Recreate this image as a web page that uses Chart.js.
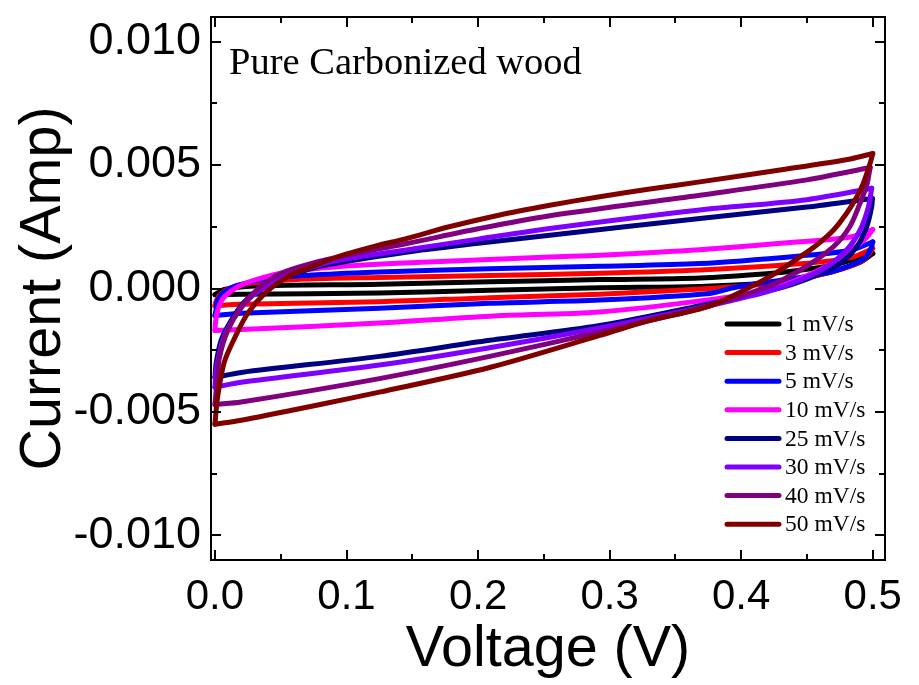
<!DOCTYPE html>
<html>
<head>
<meta charset="utf-8">
<script src="https://cdn.jsdelivr.net/npm/chart.js@4.4.0/dist/chart.umd.min.js"></script>
<style>
  html, body { margin: 0; padding: 0; background: #fff; }
</style>
</head>
<body>
<canvas id="cv" width="919" height="685"></canvas>
<script>
// scan rates and their trace colours
const scanRates = ["1 mV/s", "3 mV/s", "5 mV/s", "10 mV/s", "25 mV/s", "30 mV/s", "40 mV/s", "50 mV/s"];
const lineColors = ["#000000", "#ff0000", "#0000ff", "#ff00ff", "#000080", "#8000ff", "#800080", "#800000"];

// axis ticks
const xTicks = [0, 0.1, 0.2, 0.3, 0.4, 0.5];
const yTicks = [-0.010, -0.005, 0, 0.005, 0.010];

// CV loops as [voltage (V), current (A)], forward sweep then reverse sweep
const cv1 = [[0, -0.00025], [0.007, -0.00004], [0.03, 0.0001], [0.125, 0.00017], [0.2088, 0.00027], [0.2925, 0.00036],
  [0.3686, 0.00043], [0.4193, 0.0006], [0.4447, 0.00074], [0.47, 0.00095], [0.5, 0.00142],
  [0.49, 0.00105], [0.47, 0.0007], [0.4447, 0.0004], [0.4193, 0.00022], [0.3686, 0.00008], [0.2925, 0.00003],
  [0.2088, -0.00007], [0.125, -0.00018], [0.02, -0.00023], [0, -0.00025]];
const cv3 = [[0, -0.0007], [0.001, -0.0005], [0.0034, -0.00027], [0.0097, -0.00002], [0.0224, 0.00018], [0.068, 0.00038],
  [0.125, 0.00045], [0.2088, 0.00053], [0.2925, 0.00062], [0.3686, 0.00075], [0.4447, 0.001], [0.483, 0.00125], [0.5, 0.00162],
  [0.4928, 0.00115], [0.47, 0.00068], [0.4447, 0.0004], [0.4193, 0.00018], [0.3762, 0], [0.2925, -0.00023],
  [0.2088, -0.00037], [0.125, -0.00054], [0.02, -0.00064], [0, -0.0007]];
const cv5 = [[0, -0.0011], [0.001, -0.0008], [0.002, -0.00047], [0.007, -0.00014], [0.017, 0.00013], [0.043, 0.00041],
  [0.093, 0.0006], [0.125, 0.00067], [0.2088, 0.0008], [0.2925, 0.0009], [0.3686, 0.00101], [0.4447, 0.00132], [0.483, 0.00155], [0.5, 0.00189],
  [0.4985, 0.0016], [0.4928, 0.00118], [0.47, 0.0007], [0.4447, 0.00045], [0.4193, 0.00025], [0.394, 0.00003],
  [0.3762, -0.0002], [0.2925, -0.00047], [0.2088, -0.0006], [0.125, -0.0008], [0.02, -0.001], [0, -0.0011]];
const cv10 = [[0, -0.0017], [0.0005, -0.00135], [0.002, -0.0009], [0.004, -0.0006], [0.007, -0.00034], [0.017, 0.00006], [0.03, 0.00034],
  [0.055, 0.00067], [0.093, 0.00088], [0.144, 0.00103], [0.2545, 0.00128], [0.2925, 0.00135], [0.3686, 0.00157],
  [0.4447, 0.00189], [0.483, 0.00209], [0.5, 0.00239],
  [0.495, 0.00205], [0.485, 0.0016], [0.47, 0.00105], [0.4447, 0.0004], [0.4193, -0.00007], [0.3762, -0.00045],
  [0.2925, -0.00095], [0.2088, -0.00112], [0.125, -0.0014], [0.02, -0.00166], [0, -0.0017]];
const cv25 = [[0, -0.0036], [0.001, -0.003], [0.0047, -0.0021], [0.0123, -0.0013], [0.0224, -0.00054], [0.0377, 0.00006],
  [0.058, 0.00054], [0.0833, 0.00094], [0.144, 0.00146], [0.2, 0.00183], [0.2545, 0.00216], [0.3686, 0.00284], [0.45, 0.0033], [0.4997, 0.00365],
  [0.4992, 0.00331], [0.4954, 0.0025], [0.4878, 0.00169], [0.475, 0.00101], [0.4574, 0.00054], [0.432, 0.00006],
  [0.394, -0.0004], [0.3686, -0.0007], [0.2925, -0.0015], [0.2088, -0.0021], [0.125, -0.00275], [0.02, -0.0034], [0, -0.0036]];
const cv30 = [[0, -0.004], [0.001, -0.0033], [0.006, -0.0021], [0.015, -0.00115], [0.0275, -0.00034], [0.043, 0.0002],
  [0.063, 0.00067], [0.088, 0.00108], [0.144, 0.00155], [0.2, 0.002], [0.2545, 0.00243], [0.3686, 0.00318], [0.45, 0.0036], [0.4992, 0.00406],
  [0.4967, 0.00331], [0.4903, 0.00236], [0.48, 0.00155], [0.465, 0.00088], [0.4447, 0.00034], [0.4193, -0.00014],
  [0.394, -0.00047], [0.3686, -0.00078], [0.2925, -0.0016], [0.2088, -0.0024], [0.125, -0.0031], [0.02, -0.0038], [0, -0.004]];
const cv40 = [[0, -0.0047], [0.0015, -0.0038], [0.0034, -0.0028], [0.0097, -0.0017], [0.02, -0.00075], [0.033, 0],
  [0.05, 0.00061], [0.073, 0.00101], [0.0985, 0.00133], [0.144, 0.0018], [0.2, 0.00242], [0.2545, 0.00295], [0.3686, 0.00378],
  [0.45, 0.0044], [0.498, 0.0049],
  [0.4955, 0.0042], [0.4903, 0.00345], [0.4825, 0.0025], [0.47, 0.00169], [0.4447, 0.00074], [0.4193, 0.00006],
  [0.3762, -0.0007], [0.2925, -0.00176], [0.2088, -0.00275], [0.125, -0.00365], [0.02, -0.0046], [0, -0.0047]];
const cv50 = [[0, -0.0055], [0.002, -0.0044], [0.007, -0.003], [0.015, -0.002], [0.025, -0.001], [0.038, -0.0002],
  [0.055, 0.00047], [0.076, 0.00094], [0.099, 0.00138], [0.124, 0.00175], [0.144, 0.002], [0.178, 0.0025],
  [0.2165, 0.00298], [0.2545, 0.00337], [0.2925, 0.00372], [0.3306, 0.00403], [0.3686, 0.00432], [0.432, 0.00482],
  [0.483, 0.00525], [0.5, 0.00547],
  [0.498, 0.00507], [0.4928, 0.00426], [0.4878, 0.00371], [0.48, 0.00304], [0.47, 0.00236], [0.4574, 0.00176],
  [0.4447, 0.00128], [0.4193, 0.00041], [0.3762, -0.0007], [0.33, -0.0013], [0.2925, -0.0019],
  [0.2088, -0.0032], [0.125, -0.0042], [0.08, -0.0047], [0.02, -0.00534], [0, -0.0055]];

const loops = [cv1, cv3, cv5, cv10, cv25, cv30, cv40, cv50];

// each loop is split at its vertex potential so both sweeps end in a sharp turn
const datasets = [];
loops.forEach((pts, k) => {
  let turn = 0;
  pts.forEach((p, i) => { if (p[0] > pts[turn][0]) turn = i; });
  [pts.slice(0, turn + 1), pts.slice(turn)].forEach(part => {
    datasets.push({
      label: scanRates[k],
      data: part.map(p => ({ x: p[0], y: p[1] })),
      showLine: true,
      borderColor: lineColors[k],
      borderWidth: 5,
      borderCapStyle: "round",
      borderJoinStyle: "round",
      tension: 0.3,
      pointRadius: 0,
      fill: false,
      order: loops.length - k
    });
  });
});

// box frame with inward major/minor ticks on all four sides
const frameTicks = {
  id: "frameTicks",
  afterDatasetsDraw(chart) {
    const { ctx, chartArea: a, scales } = chart;
    const sx = scales.x, sy = scales.y;
    ctx.save();
    ctx.strokeStyle = "#000";
    ctx.lineWidth = 2;
    ctx.strokeRect(a.left, a.top, a.right - a.left, a.bottom - a.top);
    ctx.beginPath();
    const xt = (v, len) => {
      const px = Math.round(sx.getPixelForValue(v));
      ctx.moveTo(px, a.bottom); ctx.lineTo(px, a.bottom - len);
      ctx.moveTo(px, a.top); ctx.lineTo(px, a.top + len);
    };
    const yt = (v, len) => {
      const py = Math.round(sy.getPixelForValue(v));
      ctx.moveTo(a.left, py); ctx.lineTo(a.left + len, py);
      ctx.moveTo(a.right, py); ctx.lineTo(a.right - len, py);
    };
    xTicks.forEach((v, i) => {
      xt(v, 10);
      if (i > 0) xt((v + xTicks[i - 1]) / 2, 6);
    });
    yTicks.forEach((v, i) => {
      yt(v, 10);
      if (i > 0) yt((v + yTicks[i - 1]) / 2, 6);
    });
    ctx.stroke();
    ctx.restore();
  }
};

// sample label and scan-rate legend
const annotations = {
  id: "annotations",
  afterDraw(chart) {
    const { ctx, chartArea: a } = chart;
    ctx.save();
    ctx.fillStyle = "#000";
    ctx.font = "38.5px 'Liberation Serif', 'Times New Roman', serif";
    ctx.textBaseline = "alphabetic";
    ctx.textAlign = "left";
    ctx.fillText("Pure Carbonized wood", a.left + 18, 74);

    ctx.font = "23.5px 'Liberation Serif', 'Times New Roman', serif";
    ctx.textBaseline = "middle";
    ctx.lineCap = "round";
    ctx.lineWidth = 5;
    scanRates.forEach((name, i) => {
      const y = 324 + i * 28.6;
      ctx.strokeStyle = lineColors[i];
      ctx.beginPath();
      ctx.moveTo(727, y);
      ctx.lineTo(779, y);
      ctx.stroke();
      ctx.fillText(name, 785, y + 1);
    });
    ctx.restore();
  }
};

const xTickFont = { family: "'Liberation Sans', Arial, sans-serif", size: 42 };
const yTickFont = { family: "'Liberation Sans', Arial, sans-serif", size: 45 };
const titleFont = { family: "'Liberation Sans', Arial, sans-serif", size: 57.5, lineHeight: 1.2 };

new Chart(document.getElementById("cv"), {
  type: "scatter",
  data: { datasets },
  options: {
    responsive: false,
    animation: false,
    devicePixelRatio: 1,
    layout: { padding: { top: 17, right: 34, left: 0, bottom: 0 } },
    plugins: { legend: { display: false }, tooltip: { enabled: false } },
    scales: {
      x: {
        type: "linear",
        min: -0.003,
        max: 0.5093,
        afterBuildTicks: s => { s.ticks = xTicks.map(v => ({ value: v })); },
        afterFit: s => { s.height = 125; s.paddingLeft = 0; s.paddingRight = 0; },
        grid: { display: false, drawTicks: false },
        border: { display: false },
        ticks: { color: "#000", font: xTickFont, padding: 12, maxRotation: 0, callback: v => v.toFixed(1) },
        title: { display: true, text: "Voltage (V)", color: "#000", font: titleFont, padding: { top: 0, bottom: 0 } }
      },
      y: {
        type: "linear",
        min: -0.011,
        max: 0.011,
        afterBuildTicks: s => { s.ticks = yTicks.map(v => ({ value: v })); },
        afterFit: s => { s.width = 211; s.paddingTop = 0; s.paddingBottom = 0; },
        grid: { display: false, drawTicks: false },
        border: { display: false },
        ticks: { color: "#000", font: yTickFont, padding: 10, callback: v => v.toFixed(3) },
        title: { display: true, text: "Current (Amp)", color: "#000", font: titleFont, padding: { top: 10, bottom: 0 } }
      }
    }
  },
  plugins: [frameTicks, annotations]
});
</script>
</body>
</html>
